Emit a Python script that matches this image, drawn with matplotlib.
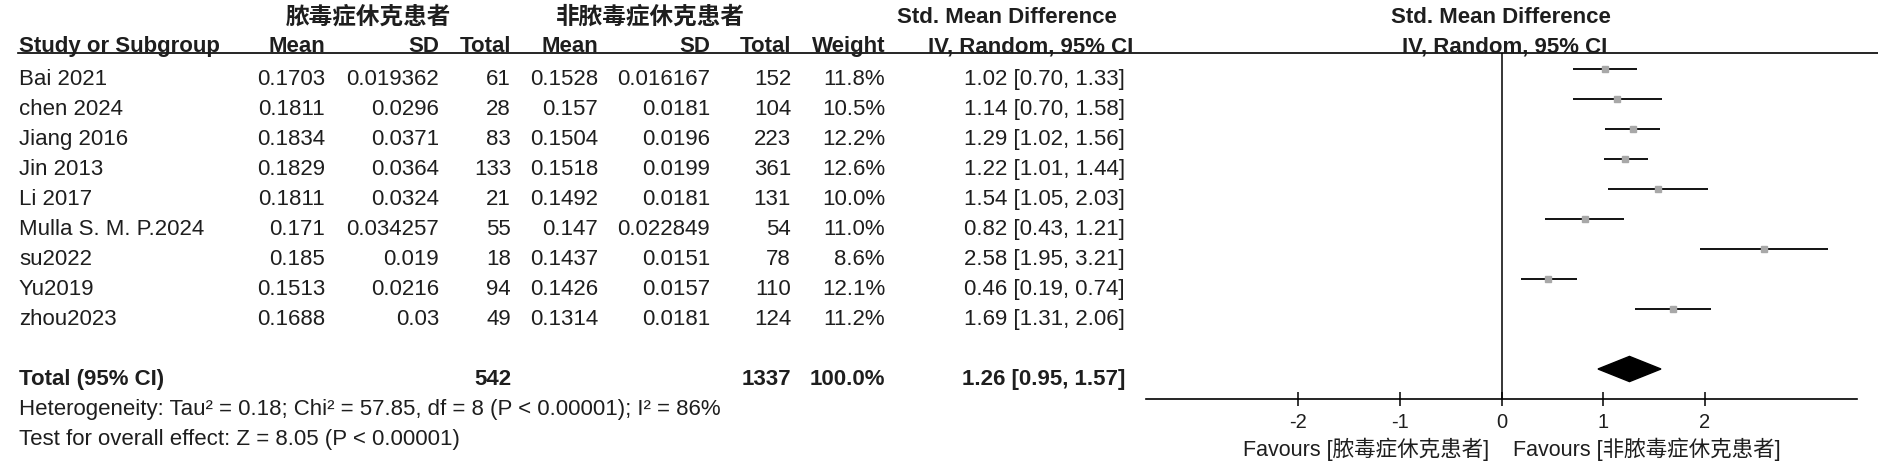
import matplotlib
matplotlib.use("Agg")
from matplotlib import pyplot as plt
from matplotlib.lines import Line2D
from matplotlib.transforms import blended_transform_factory

plt.rcParams["font.family"] = ["Liberation Sans", "Noto Sans CJK SC"]

# data
studies = ["Bai 2021", "chen 2024", "Jiang 2016", "Jin 2013", "Li 2017",
           "Mulla S. M. P.2024", "su2022", "Yu2019", "zhou2023"]
mean1 = [0.1703, 0.1811, 0.1834, 0.1829, 0.1811, 0.171, 0.185, 0.1513, 0.1688]
sd1 = [0.019362, 0.0296, 0.0371, 0.0364, 0.0324, 0.034257, 0.019, 0.0216, 0.03]
n1 = [61, 28, 83, 133, 21, 55, 18, 94, 49]
mean2 = [0.1528, 0.157, 0.1504, 0.1518, 0.1492, 0.147, 0.1437, 0.1426, 0.1314]
sd2 = [0.016167, 0.0181, 0.0196, 0.0199, 0.0181, 0.022849, 0.0151, 0.0157, 0.0181]
n2 = [152, 104, 223, 361, 131, 54, 78, 110, 124]
weight = [11.8, 10.5, 12.2, 12.6, 10.0, 11.0, 8.6, 12.1, 11.2]
smd = [1.02, 1.14, 1.29, 1.22, 1.54, 0.82, 2.58, 0.46, 1.69]
ci_lo = [0.70, 0.70, 1.02, 1.01, 1.05, 0.43, 1.95, 0.19, 1.31]
ci_hi = [1.33, 1.58, 1.56, 1.44, 2.03, 1.21, 3.21, 0.74, 2.06]
total_n1, total_n2, total_weight = 542, 1337, 100.0
total_smd, total_lo, total_hi = 1.26, 0.95, 1.57
group1 = "脓毒症休克患者"
group2 = "非脓毒症休克患者"
heterogeneity = "Heterogeneity: Tau² = 0.18; Chi² = 57.85, df = 8 (P < 0.00001); I² = 86%"
overall = "Test for overall effect: Z = 8.05 (P < 0.00001)"
xticks = [-2, -1, 0, 1, 2]

W, H = 1878, 465
fig = plt.figure(figsize=(W / 100, H / 100), dpi=100)
txt = "#1e1e1e"
fs = 16


def fx(x):
    return x / W


def fy(y):
    return 1 - y / H


def put(x, y, s, ha="right", bold=False, size=fs):
    fig.text(fx(x), fy(y), s, ha=ha, va="baseline", fontsize=size, color=txt,
             fontweight="bold" if bold else "normal")


# headers
put(368, 24, group1, ha="center", bold=True, size=17)
put(650, 24, group2, ha="center", bold=True, size=17)
put(1007, 23, "Std. Mean Difference", ha="center", bold=True)
put(1501, 23, "Std. Mean Difference", ha="center", bold=True)
put(19, 52, "Study or Subgroup", ha="left", bold=True)
cols = [325, 439, 511, 598, 710, 791, 885]
for x, s in zip(cols, ["Mean", "SD", "Total", "Mean", "SD", "Total", "Weight"]):
    put(x, 52, s, bold=True)
put(1031, 52, "IV, Random, 95% CI", ha="center", bold=True)
put(1505, 52, "IV, Random, 95% CI", ha="center", bold=True)
fig.add_artist(Line2D([fx(18), 1], [fy(53), fy(53)], transform=fig.transFigure,
                      color="black", lw=1.2))

# table rows
for i, name in enumerate(studies):
    y = 85 + 30 * i
    put(19, y, name, ha="left")
    vals = [str(mean1[i]), str(sd1[i]), str(n1[i]), str(mean2[i]), str(sd2[i]),
            str(n2[i]), f"{weight[i]:.1f}%"]
    for x, s in zip(cols, vals):
        put(x, y, s)
    put(1125, y, f"{smd[i]:.2f} [{ci_lo[i]:.2f}, {ci_hi[i]:.2f}]")

put(19, 385, "Total (95% CI)", ha="left", bold=True)
put(511, 385, str(total_n1), bold=True)
put(791, 385, str(total_n2), bold=True)
put(885, 385, f"{total_weight:.1f}%", bold=True)
put(1125, 385, f"{total_smd:.2f} [{total_lo:.2f}, {total_hi:.2f}]", bold=True)
put(19, 415, heterogeneity, ha="left")
put(19, 445, overall, ha="left")

# forest plot
ax = fig.add_axes([fx(1146), fy(399), fx(1857 - 1146), (399 - 53) / H])
rows = list(range(len(studies)))
ax.hlines(rows, ci_lo, ci_hi, color="black", lw=1.3)
ax.plot(smd, rows, "s", color="#a8a8a8", ms=5, mec="#a8a8a8")
tr = 10
ax.fill([total_lo, total_smd, total_hi, total_smd],
        [tr, tr - 0.42, tr, tr + 0.42], color="black")
ax.axvline(0, color="black", lw=1.1)
ax.set_xlim(-3.5, 3.5)
ax.set_ylim(11, -0.533)
ax.set_yticks([])
ax.set_xticks(xticks)
ax.set_xticklabels([str(t) for t in xticks])
ax.tick_params(axis="x", direction="inout", length=9.5, width=1.1, pad=5,
               labelsize=14.5, labelcolor=txt)
for side in ["top", "left", "right"]:
    ax.spines[side].set_visible(False)
ax.spines["bottom"].set_linewidth(1.2)
ax.patch.set_alpha(0)

blend = blended_transform_factory(ax.transData, fig.transFigure)
ax.text(-0.12, fy(456), "Favours [" + group1 + "]", transform=blend, ha="right",
        va="baseline", fontsize=15.5, color=txt)
ax.text(0.11, fy(456), "Favours [" + group2 + "]", transform=blend, ha="left",
        va="baseline", fontsize=15.5, color=txt)

plt.savefig("out.png", dpi=100)
